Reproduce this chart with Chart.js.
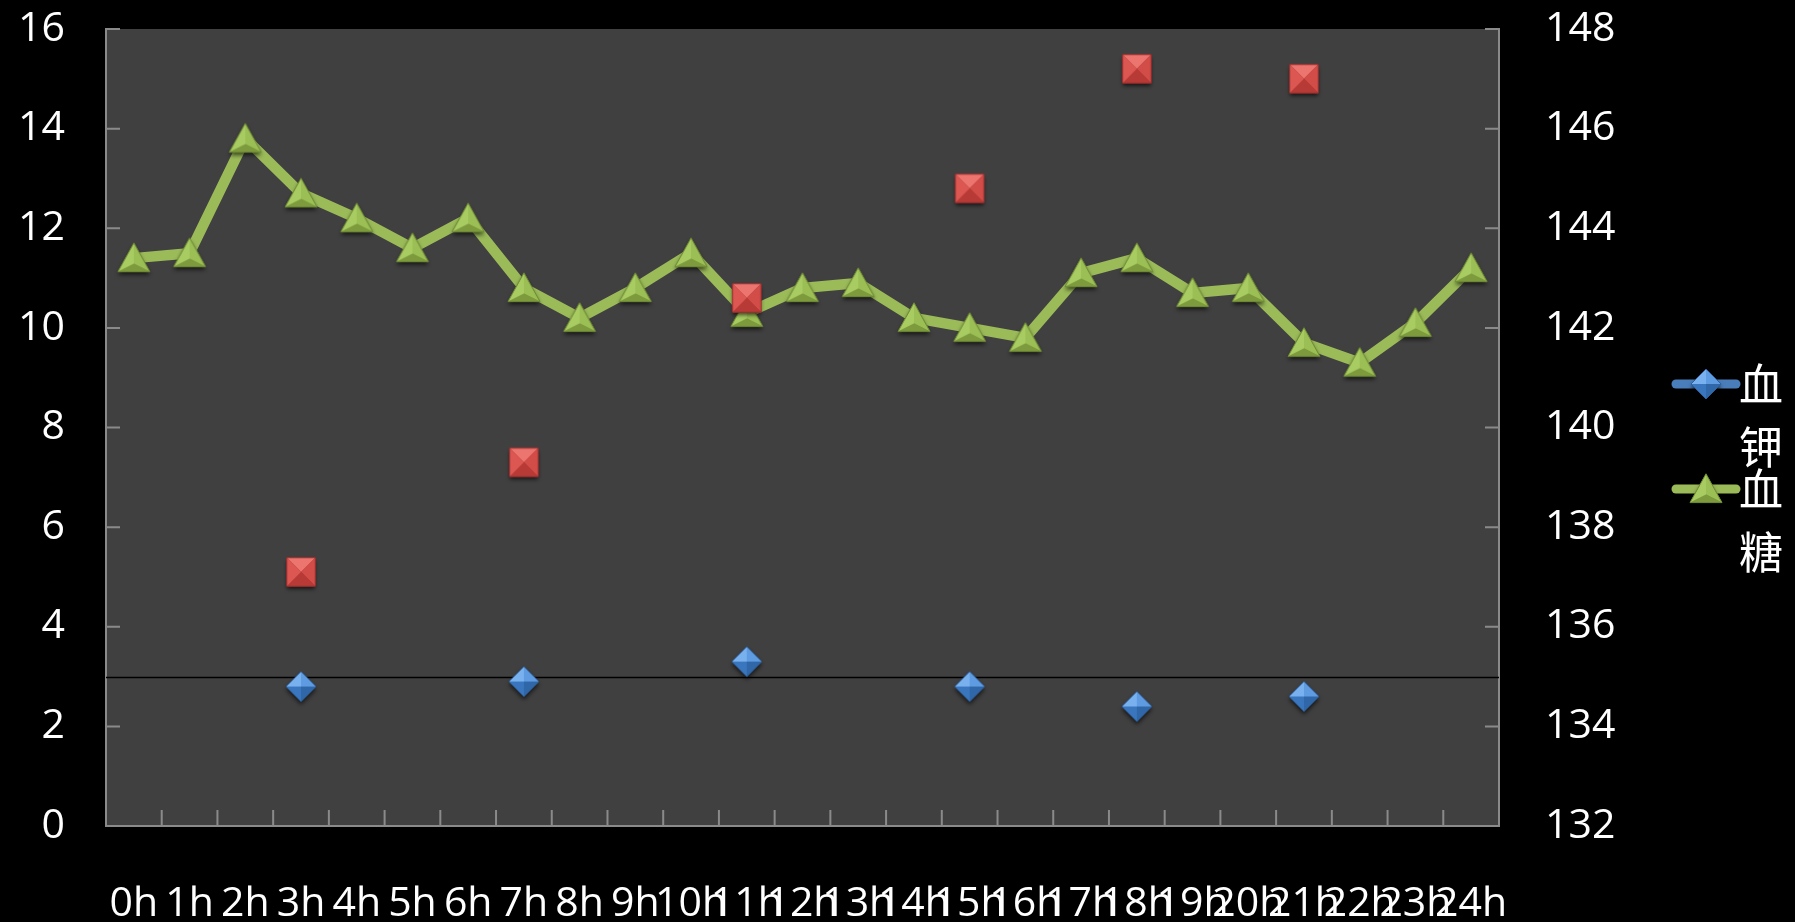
<!DOCTYPE html>
<html>
<head>
<meta charset="utf-8">
<script src="https://cdn.jsdelivr.net/npm/chart.js@4.4.0/dist/chart.umd.min.js"></script>
<style>
  html, body { margin: 0; padding: 0; background: #000; }
</style>
</head>
<body>
<canvas id="grafico" width="1795" height="922"></canvas>
<script>
// dados: 0h..24h
const horas = ['0h','1h','2h','3h','4h','5h','6h','7h','8h','9h','10h','11h','12h',
  '13h','14h','15h','16h','17h','18h','19h','20h','21h','22h','23h','24h'];
const glicemia = [11.4, 11.5, 13.8, 12.7, 12.2, 11.6, 12.2, 10.8, 10.2, 10.8, 11.5, 10.3, 10.8,
  10.9, 10.2, 10.0, 9.8, 11.1, 11.4, 10.7, 10.8, 9.7, 9.3, 10.1, 11.2];
const potassio = [null, null, null, 2.8, null, null, null, 2.9, null, null, null, 3.3, null,
  null, null, 2.8, null, null, 2.4, null, null, 2.6, null, null, null];
const sodio = [null, null, null, 137.1, null, null, null, 139.3, null, null, null, 142.6, null,
  null, null, 144.8, null, null, 147.2, null, null, 147.0, null, null, null];
const limitePotassio = 3;
const ticksEsq = [0, 2, 4, 6, 8, 10, 12, 14, 16];
const ticksDir = [132, 134, 136, 138, 140, 142, 144, 146, 148];

// marcadores com facetas (estilo 3D)
function marcador(tipo, tam) {
  const pad = 8;
  const c = document.createElement('canvas');
  c.width = c.height = tam + pad * 2;
  const g = c.getContext('2d');
  const cx = c.width / 2, cy = c.height / 2, h = tam / 2;
  let pts, centro, cores, borda;
  if (tipo === 'tri') {
    pts = [[cx, cy - h * 0.95], [cx + h, cy + h * 0.85], [cx - h, cy + h * 0.85]];
    centro = [cx, cy + h * 0.35];
    cores = ['#9cbf55', '#7d9a3c', '#a9cc62'];
    borda = '#6e8a33';
  } else if (tipo === 'dia') {
    pts = [[cx, cy - h], [cx + h, cy], [cx, cy + h], [cx - h, cy]];
    centro = [cx, cy];
    cores = ['#5f9be0', '#2f67a8', '#3a76bd', '#79b0ee'];
    borda = '#2d5f9c';
  } else {
    const s = h * 0.95;
    pts = [[cx - s, cy - s], [cx + s, cy - s], [cx + s, cy + s], [cx - s, cy + s]];
    centro = [cx, cy];
    cores = ['#ec756f', '#d24c48', '#b83a37', '#dc5752'];
    borda = '#9b2f2d';
  }
  // sombra
  g.save();
  g.shadowColor = 'rgba(0,0,0,0.65)';
  g.shadowBlur = 4;
  g.shadowOffsetY = 3;
  g.beginPath();
  pts.forEach((p, i) => i ? g.lineTo(p[0], p[1]) : g.moveTo(p[0], p[1]));
  g.closePath();
  g.fillStyle = borda;
  g.fill();
  g.restore();
  for (let i = 0; i < pts.length; i++) {
    const a = pts[i], b = pts[(i + 1) % pts.length];
    g.beginPath();
    g.moveTo(a[0], a[1]);
    g.lineTo(b[0], b[1]);
    g.lineTo(centro[0], centro[1]);
    g.closePath();
    g.fillStyle = cores[i];
    g.fill();
  }
  g.beginPath();
  pts.forEach((p, i) => i ? g.lineTo(p[0], p[1]) : g.moveTo(p[0], p[1]));
  g.closePath();
  g.strokeStyle = borda;
  g.lineWidth = 1;
  g.stroke();
  return c;
}

const triangulo = marcador('tri', 32);
const losango = marcador('dia', 30);
const quadrado = marcador('sq', 30);

// fundo da área do gráfico, linha de referência e marcas internas dos eixos
const areaPlugin = {
  id: 'area',
  beforeDraw(chart) {
    const { ctx, chartArea: a } = chart;
    ctx.save();
    ctx.fillStyle = '#404040';
    ctx.fillRect(a.left, a.top, a.right - a.left, a.bottom - a.top);
    ctx.restore();
  },
  beforeDatasetsDraw(chart) {
    const { ctx, chartArea: a, scales } = chart;
    ctx.save();
    ctx.strokeStyle = '#8a8a8a';
    ctx.lineWidth = 2;
    ctx.beginPath();
    scales.y.ticks.forEach((t, i) => {
      const y = scales.y.getPixelForTick(i);
      ctx.moveTo(a.left, y); ctx.lineTo(a.left + 14, y);
    });
    scales.y1.ticks.forEach((t, i) => {
      const y = scales.y1.getPixelForTick(i);
      ctx.moveTo(a.right - 14, y); ctx.lineTo(a.right, y);
    });
    const n = scales.x.ticks.length;
    for (let i = 1; i < n; i++) {
      const x = (scales.x.getPixelForTick(i - 1) + scales.x.getPixelForTick(i)) / 2;
      ctx.moveTo(x, a.bottom); ctx.lineTo(x, a.bottom - 16);
    }
    ctx.stroke();
    // linha do limite de potássio
    const yRef = Math.round(scales.y.getPixelForValue(limitePotassio)) + 0.5;
    ctx.strokeStyle = '#000';
    ctx.lineWidth = 1.5;
    ctx.beginPath();
    ctx.moveTo(a.left, yRef);
    ctx.lineTo(a.right, yRef);
    ctx.stroke();
    ctx.restore();
  }
};

// legenda vertical com um caractere por linha
const legendaPlugin = {
  id: 'legenda',
  afterDraw(chart, args, opts) {
    const ctx = chart.ctx;
    ctx.save();
    let y = opts.top;
    chart.data.datasets.filter(d => d.naLegenda).forEach(d => {
      ctx.strokeStyle = d.corLegenda;
      ctx.lineWidth = 9;
      ctx.lineCap = 'round';
      ctx.beginPath();
      ctx.moveTo(opts.x, y);
      ctx.lineTo(opts.x + opts.linha, y);
      ctx.stroke();
      const img = d.pointStyle;
      ctx.drawImage(img, opts.x + opts.linha / 2 - img.width / 2, y - img.height / 2);
      ctx.fillStyle = '#fff';
      ctx.font = opts.fonte;
      ctx.textBaseline = 'middle';
      ctx.textAlign = 'left';
      [...d.label].forEach((ch, k) => ctx.fillText(ch, opts.x + opts.linha + 3, y + k * opts.altLinha));
      y += opts.passo;
    });
    ctx.restore();
  }
};

const fonteEixo = { family: 'Open Sans', size: 41 };

// largura fixa dos eixos verticais, sem reserva extra acima/abaixo
const fixaY = largura => s => {
  s.width = largura;
  s.paddingTop = 0;
  s.paddingBottom = 0;
};

new Chart(document.getElementById('grafico'), {
  type: 'line',
  data: {
    labels: horas,
    datasets: [{
      label: '血钾',
      data: potassio,
      yAxisID: 'y',
      showLine: false,
      pointStyle: losango,
      order: 1,
      naLegenda: true,
      corLegenda: '#4a7ebb'
    }, {
      label: '血糖',
      data: glicemia,
      yAxisID: 'y',
      borderColor: '#9bbb59',
      borderWidth: 10.5,
      borderJoinStyle: 'round',
      tension: 0,
      pointStyle: triangulo,
      order: 2,
      naLegenda: true,
      corLegenda: '#9bbb59'
    }, {
      label: '血钠',
      data: sodio,
      yAxisID: 'y1',
      showLine: false,
      pointStyle: quadrado,
      order: 0,
      naLegenda: false
    }]
  },
  options: {
    responsive: false,
    animation: false,
    layout: { padding: { top: 29, left: 0, right: 0, bottom: 0 } },
    plugins: {
      legend: { display: false },
      tooltip: { enabled: false },
      legenda: { x: 1676, top: 384, passo: 105, linha: 60, altLinha: 63, fonte: '44px "Noto Sans CJK SC"' }
    },
    scales: {
      x: {
        offset: true,
        grid: { display: false },
        border: { display: true, color: '#8a8a8a', width: 2 },
        ticks: { color: '#fff', font: fonteEixo, autoSkip: false, maxRotation: 0, minRotation: 0, padding: 46 },
        afterFit: s => { s.height = 96; }
      },
      y: {
        position: 'left',
        min: 0, max: 16,
        afterBuildTicks: s => { s.ticks = ticksEsq.map(v => ({ value: v })); },
        grid: { display: false },
        border: { display: true, color: '#8a8a8a', width: 2 },
        ticks: { color: '#fff', font: fonteEixo, padding: 33 },
        afterFit: fixaY(106)
      },
      y1: {
        position: 'right',
        min: 132, max: 148,
        afterBuildTicks: s => { s.ticks = ticksDir.map(v => ({ value: v })); },
        grid: { display: false },
        border: { display: true, color: '#8a8a8a', width: 2 },
        ticks: { color: '#fff', font: fonteEixo, padding: 38 },
        afterFit: fixaY(296)
      }
    }
  },
  plugins: [areaPlugin, legendaPlugin]
});
</script>
</body>
</html>
